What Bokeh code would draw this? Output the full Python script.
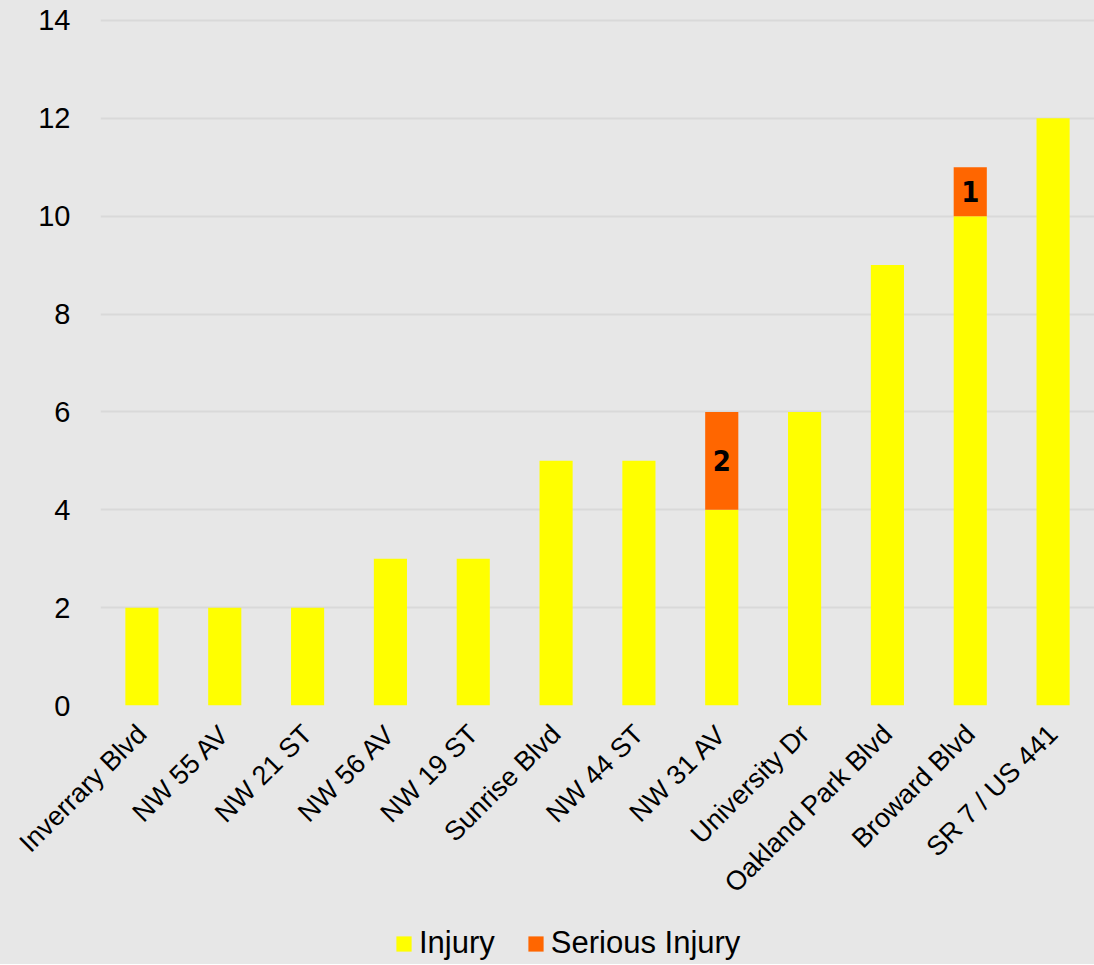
import math
from bokeh.plotting import figure
from bokeh.layouts import column
from bokeh.models import ColumnDataSource, Range1d, FixedTicker, Legend, LegendItem
from bokeh.core.properties import value
from bokeh.embed import file_html
from bokeh.resources import INLINE

# ---- data ----
streets = ["Inverrary Blvd", "NW 55 AV", "NW 21 ST", "NW 56 AV", "NW 19 ST",
           "Sunrise Blvd", "NW 44 ST", "NW 31 AV", "University Dr",
           "Oakland Park Blvd", "Broward Blvd", "SR 7 / US 441"]
injury = [2, 2, 2, 3, 3, 5, 5, 4, 6, 9, 10, 12]
serious_injury = [0, 0, 0, 0, 0, 0, 0, 2, 0, 0, 1, 0]
y_ticks = [0, 2, 4, 6, 8, 10, 12, 14]
series_names = ["Injury", "Serious Injury"]
series_colors = ["#ffff00", "#ff6600"]

BG = "#e7e7e7"
FONT = "Liberation Sans"

src = ColumnDataSource(dict(street=streets, injury=injury, serious=serious_injury))

p = figure(x_range=streets, y_range=Range1d(0, 14.04), width=1094, height=919,
           output_backend="svg", toolbar_location=None,
           background_fill_color=BG, border_fill_color=BG,
           min_border_left=100, min_border_right=0, min_border_top=18,
           min_border_bottom=214)
p.outline_line_color = None
p.x_range.range_padding = 0

r = p.vbar_stack(["injury", "serious"], x="street", width=0.4, source=src,
                 color=series_colors, line_color=None)

# labels on serious-injury segments
lab_x = [s for s, v in zip(streets, serious_injury) if v > 0]
lab_y = [i + v / 2 for i, v in zip(injury, serious_injury) if v > 0]
lab_t = [str(v) for v in serious_injury if v > 0]
p.text(x=lab_x, y=lab_y, text=lab_t, text_align="center", text_baseline="middle",
       text_font=value("'DejaVu Sans Condensed', 'Liberation Sans'"),
       text_font_style="bold", text_font_size="29px", text_color="#000000")

# grid
p.xgrid.grid_line_color = None
p.ygrid.grid_line_color = "#d9d9d9"
p.ygrid.grid_line_width = 2
p.yaxis.ticker = FixedTicker(ticks=y_ticks)

# y axis
p.yaxis.axis_line_color = None
p.yaxis.major_tick_line_color = None
p.yaxis.minor_tick_line_color = None
p.yaxis.major_tick_in = 0
p.yaxis.major_tick_out = 0
p.yaxis.major_label_standoff = 30
p.yaxis.major_label_text_font = FONT
p.yaxis.major_label_text_font_size = "29px"
p.yaxis.major_label_text_color = "#000000"

# x axis
p.xaxis.axis_line_color = None
p.xaxis.major_tick_line_color = None
p.xaxis.major_tick_in = 0
p.xaxis.major_tick_out = 0
p.xaxis.major_label_standoff = 24
p.xaxis.major_label_orientation = math.pi / 4
p.xaxis.major_label_text_font = FONT
p.xaxis.major_label_text_font_size = "27px"
p.xaxis.major_label_text_color = "#000000"

# legend strip (separate figure below the chart)
lg = figure(width=1094, height=45, output_backend="svg", toolbar_location=None,
            background_fill_color=BG, border_fill_color=BG,
            x_range=Range1d(0, 1), y_range=Range1d(0, 1),
            x_axis_location=None, y_axis_location=None,
            min_border_left=0, min_border_right=0, min_border_top=0,
            min_border_bottom=0)
lg.outline_line_color = None
lg.grid.visible = False
dummy = ColumnDataSource(dict(x=[5], top=[1]))  # off-screen, legend swatches only
items = []
for name, col in zip(series_names, series_colors):
    rr = lg.vbar(x="x", top="top", width=0.1, source=dummy, color=col, line_color=None)
    items.append(LegendItem(label=name, renderers=[rr]))

legend = Legend(items=items, orientation="horizontal", location=(294, 3),
                background_fill_alpha=0, border_line_color=None,
                label_text_font=FONT, label_text_font_size="31px",
                label_text_color="#000000",
                glyph_width=19, glyph_height=19, label_standoff=6,
                spacing=31, padding=0, margin=0)
lg.add_layout(legend, "center")

layout = column(p, lg, spacing=0, styles={"background-color": BG})
open("out.html", "w").write(file_html(layout, INLINE))
